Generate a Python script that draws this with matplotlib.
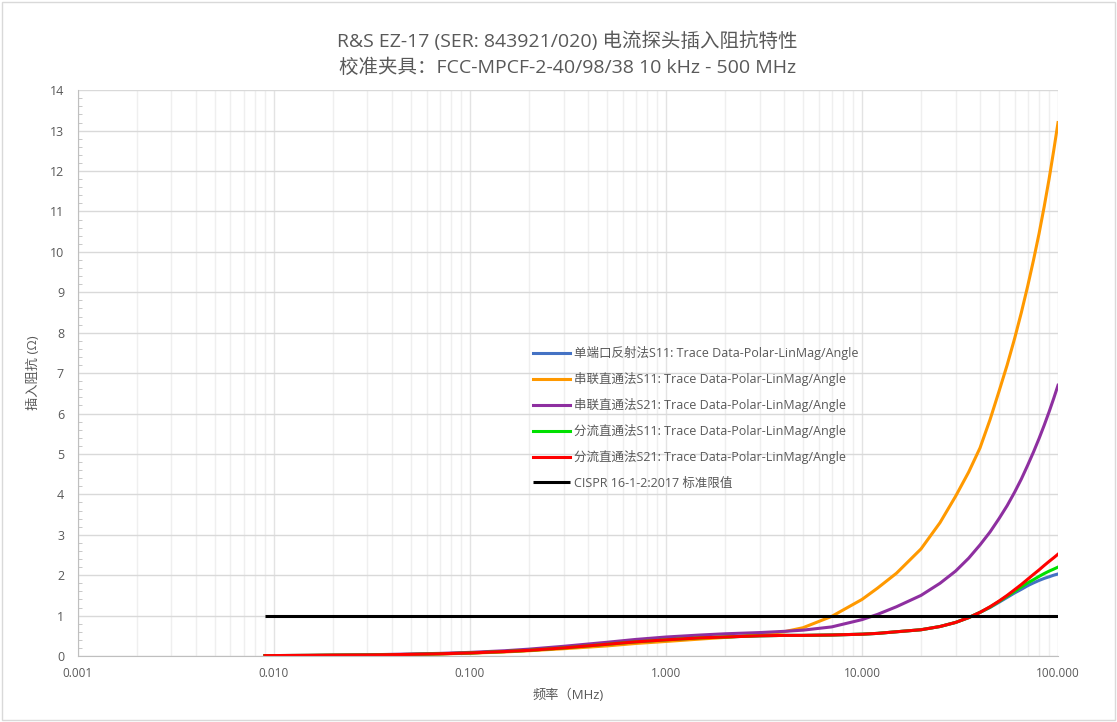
import numpy as np
import matplotlib.pyplot as plt
from matplotlib.patches import Rectangle
from matplotlib.ticker import LogLocator, MultipleLocator, FixedLocator

plt.rcParams['font.family'] = ['Open Sans', 'Noto Sans CJK SC', 'DejaVu Sans']

# frequency points (MHz)
freq = [0.009, 0.015, 0.02, 0.03, 0.05, 0.07, 0.1, 0.15, 0.2, 0.3, 0.5, 0.7,
        1, 1.5, 2, 3, 4, 5, 7, 10, 12, 15, 20, 25, 30, 35, 40, 45, 50,
        55, 60, 65, 70, 75, 80, 85, 90, 95, 100]

# impedance (ohm)
z_series_s11 = [0.01, 0.015, 0.02, 0.025, 0.04, 0.05, 0.07, 0.1, 0.13, 0.18, 0.25, 0.31,
                0.36, 0.42, 0.46, 0.53, 0.6, 0.7, 0.98, 1.4, 1.68, 2.05, 2.65, 3.3, 3.95,
                4.55, 5.15, 5.85, 6.55, 7.2, 7.85, 8.5, 9.15, 9.8, 10.45, 11.12, 11.8,
                12.5, 13.2]
z_series_s21 = [0.01, 0.015, 0.02, 0.03, 0.05, 0.065, 0.09, 0.13, 0.17, 0.24, 0.34, 0.41,
                0.47, 0.52, 0.55, 0.58, 0.61, 0.64, 0.72, 0.9, 1.03, 1.22, 1.5, 1.8, 2.1,
                2.42, 2.75, 3.07, 3.4, 3.72, 4.05, 4.38, 4.72, 5.05, 5.38, 5.71, 6.04,
                6.37, 6.7]
z_shunt_s21 = [0.01, 0.015, 0.02, 0.025, 0.04, 0.055, 0.075, 0.11, 0.14, 0.2, 0.29, 0.35,
               0.4, 0.45, 0.47, 0.5, 0.51, 0.51, 0.52, 0.54, 0.56, 0.6, 0.65, 0.73, 0.83,
               0.95, 1.08, 1.22, 1.36, 1.5, 1.64, 1.77, 1.9, 2.02, 2.13, 2.24, 2.34,
               2.43, 2.52]
z_shunt_s11 = [0.01, 0.015, 0.02, 0.025, 0.04, 0.055, 0.075, 0.11, 0.14, 0.2, 0.29, 0.35,
               0.4, 0.45, 0.47, 0.5, 0.51, 0.51, 0.52, 0.54, 0.56, 0.6, 0.65, 0.73, 0.83,
               0.95, 1.08, 1.21, 1.35, 1.48, 1.6, 1.71, 1.81, 1.89, 1.97, 2.04, 2.1,
               2.15, 2.2]
z_reflect_s11 = [0.01, 0.015, 0.02, 0.025, 0.04, 0.055, 0.075, 0.11, 0.14, 0.2, 0.29, 0.35,
                 0.4, 0.45, 0.47, 0.5, 0.51, 0.51, 0.52, 0.54, 0.56, 0.6, 0.65, 0.73, 0.83,
                 0.95, 1.08, 1.2, 1.33, 1.45, 1.56, 1.65, 1.74, 1.81, 1.87, 1.92, 1.96,
                 2.0, 2.03]
limit_freq = [0.009, 100]
limit_val = [1, 1]

labels = ['单端口反射法S11: Trace Data-Polar-LinMag/Angle',
          '串联直通法S11: Trace Data-Polar-LinMag/Angle',
          '串联直通法S21: Trace Data-Polar-LinMag/Angle',
          '分流直通法S11: Trace Data-Polar-LinMag/Angle',
          '分流直通法S21: Trace Data-Polar-LinMag/Angle',
          'CISPR 16-1-2:2017 标准限值']
colors = ['#4472C4', '#FF9900', '#8E2FA0', '#00E000', '#FF0000', '#000000']
xticks = [0.001, 0.01, 0.1, 1, 10, 100]
xticklabels = ['0.001', '0.010', '0.100', '1.000', '10.000', '100.000']

fig = plt.figure(figsize=(11.17, 7.22), dpi=100)
ax = fig.add_axes([0.0698, 0.0914, 0.8774, 0.7836])

series = [z_reflect_s11, z_series_s11, z_series_s21, z_shunt_s11, z_shunt_s21]
for ys, c, lab in zip(series, colors[:5], labels[:5]):
    ax.plot(freq, ys, color=c, lw=2.2, label=lab, solid_joinstyle='round')
ax.plot(limit_freq, limit_val, color=colors[5], lw=2.2, label=labels[5], solid_capstyle='butt')

ax.set_xscale('log')
ax.set_xlim(0.001, 100)
ax.set_ylim(0, 14)
ax.xaxis.set_major_locator(FixedLocator(xticks))
ax.set_xticklabels(xticklabels)
ax.xaxis.set_minor_locator(LogLocator(base=10, subs=np.arange(2, 10)))
ax.xaxis.set_minor_formatter(plt.NullFormatter())
ax.yaxis.set_major_locator(MultipleLocator(1))
ax.yaxis.set_minor_locator(MultipleLocator(0.2))

ax.grid(True, which='major', axis='y', color='#D9D9D9', lw=1)
ax.grid(True, which='major', axis='x', color='#E3E3E3', lw=1)
ax.grid(True, which='minor', axis='x', color='#EFEFEF', lw=1)
ax.set_axisbelow(True)

for s in ['top', 'right']:
    ax.spines[s].set_visible(False)
for s in ['left', 'bottom']:
    ax.spines[s].set_color('#BFBFBF')
ax.tick_params(axis='both', which='major', length=0, colors='#595959', labelsize=8.5, pad=8)
ax.tick_params(axis='y', which='minor', direction='in', length=3, color='#BFBFBF')
ax.tick_params(axis='x', which='minor', length=0)
ax.tick_params(axis='y', which='major', labelsize=9, pad=10)

ax.set_xlabel('频率（MHz)', color='#595959', fontsize=9.5, labelpad=6)
ax.set_ylabel('插入阻抗 (Ω)', color='#595959', fontsize=9.5, labelpad=7)

fig.text(0.508, 0.943, 'R&S EZ-17 (SER: 843921/020) 电流探头插入阻抗特性',
         ha='center', va='center', fontsize=14, color='#595959')
fig.text(0.508, 0.906, '校准夹具：FCC-MPCF-2-40/98/38 10 kHz - 500 MHz',
         ha='center', va='center', fontsize=14, color='#595959')

leg = ax.legend(loc='upper left', bbox_to_anchor=(0.459, 0.557), frameon=False,
                fontsize=9, handlelength=3.0, handletextpad=0.3, labelspacing=0.97,
                borderaxespad=0)
for t in leg.get_texts():
    t.set_color('#595959')

fig.patches.append(Rectangle((0.002, 0.003), 0.996, 0.994, transform=fig.transFigure,
                             fill=False, edgecolor='#D9D9D9', lw=1))

fig.savefig('out.png', dpi=100)
